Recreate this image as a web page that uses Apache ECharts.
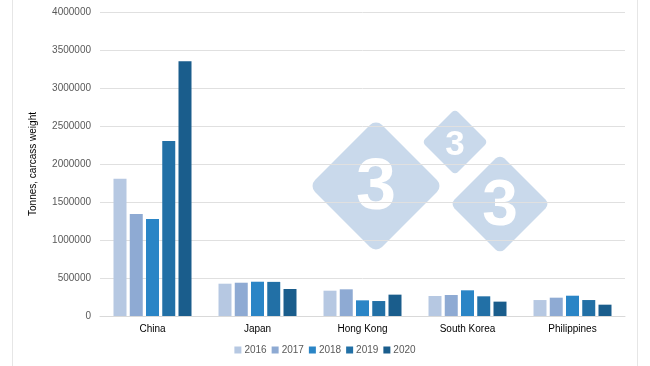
<!DOCTYPE html>
<html>
<head>
<meta charset="utf-8">
<script src="https://cdn.jsdelivr.net/npm/echarts@6/dist/echarts.min.js"></script>
<style>html,body{margin:0;padding:0;background:#fff}#c{width:650px;height:366px}</style>
</head>
<body>
<div id="c"></div>
<script>
const categories = ['China', 'Japan', 'Hong Kong', 'South Korea', 'Philippines'];
const years = ['2016', '2017', '2018', '2019', '2020'];
const v2016 = [1806000, 425000, 333000, 263000, 210000];
const v2017 = [1342000, 438000, 351000, 276000, 241000];
const v2018 = [1276000, 451000, 206000, 338000, 267000];
const v2019 = [2303000, 449000, 197000, 259000, 210000];
const v2020 = [3351000, 355000, 281000, 189000, 149000];
const yTicks = [0, 500000, 1000000, 1500000, 2000000, 2500000, 3000000, 3500000, 4000000];
const colors = ['#b6c8e2', '#8eaad3', '#2a85c6', '#2270a6', '#1a5d8c'];
const seriesValues = [v2016, v2017, v2018, v2019, v2020];

const chart = echarts.init(document.getElementById('c'), null, {renderer: 'canvas'});

function diamond(cx, cy, half, fs) {
  const s = half * Math.SQRT2;
  return {
    type: 'group', x: cx, y: cy, z: 50,
    children: [
      {type: 'rect', rotation: Math.PI / 4,
       shape: {x: -s / 2, y: -s / 2, width: s, height: s, r: s * 0.09},
       style: {fill: 'rgba(120,160,205,0.40)'}},
      {type: 'text', style: {text: '3', x: 0, y: 3, align: 'center', verticalAlign: 'middle',
        fontSize: fs, fontWeight: 'bold', fontFamily: 'Liberation Sans, Arial, sans-serif', fill: '#ffffff'}}
    ]
  };
}

chart.setOption({
  animation: false,
  color: colors,
  grid: {left: 100, right: 25, top: 12, bottom: 50},
  legend: {
    bottom: 6, left: 'center', itemWidth: 7, itemHeight: 7, itemGap: 5,
    icon: 'rect',
    textStyle: {color: '#595959', fontSize: 10, fontFamily: 'Liberation Sans, Arial, sans-serif', padding: [0, 0, 0, -2]},
    data: years
  },
  xAxis: {
    type: 'category', data: categories,
    axisLine: {lineStyle: {color: '#d9d9d9'}},
    axisTick: {show: false},
    axisLabel: {color: '#000', fontSize: 10, margin: 8, fontFamily: 'Liberation Sans, Arial, sans-serif'}
  },
  yAxis: {
    type: 'value', min: 0, max: 4000000, interval: 500000,
    name: 'Tonnes, carcass weight', nameLocation: 'middle', nameGap: 62, nameRotate: 90,
    nameTextStyle: {color: '#000', fontSize: 10, fontFamily: 'Liberation Sans, Arial, sans-serif'},
    axisLine: {show: false}, axisTick: {show: false},
    splitLine: {lineStyle: {color: '#e0e0e0'}},
    axisLabel: {color: '#595959', fontSize: 10, margin: 9, fontFamily: 'Liberation Sans, Arial, sans-serif',
      formatter: function (v) { return yTicks.indexOf(v) >= 0 ? String(v) : ''; }}
  },
  series: years.map((y, i) => ({
    name: y, type: 'bar', data: seriesValues[i],
    barWidth: 13, barGap: '25%', barCategoryGap: '26%'
  })),
  graphic: [
    {type: 'line', shape: {x1: 12.5, y1: 0, x2: 12.5, y2: 366}, style: {stroke: '#e6e6e6', lineWidth: 1}},
    {type: 'line', shape: {x1: 637.5, y1: 0, x2: 637.5, y2: 366}, style: {stroke: '#e6e6e6', lineWidth: 1}},
    diamond(376, 186, 67, 72),
    diamond(455, 142, 33, 35),
    diamond(500, 204, 50, 64)
  ]
});
</script>
</body>
</html>
